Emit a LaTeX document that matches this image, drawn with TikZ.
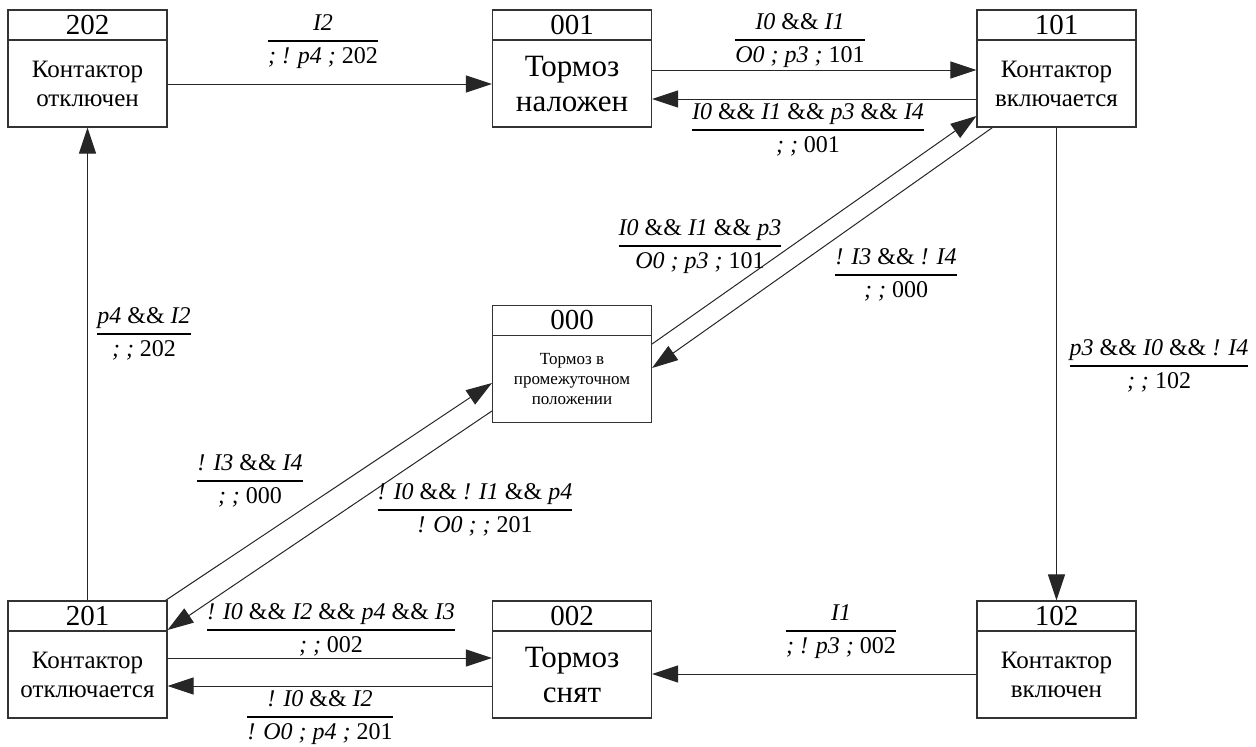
\documentclass[tikz,border=0pt]{standalone}
\usepackage{fontspec}
\setmainfont{Liberation Serif}
\usetikzlibrary{arrows.meta,calc}
\newcommand{\trlab}[3]{\begin{tabular}{@{}c@{}}\itshape #1\\\hline\textit{#2}#3\end{tabular}}
\newcommand{\AND}{\textup{\&\&}}
\newcommand{\hdrfont}{\fontsize{29}{32}\selectfont}
\newcommand{\bodyfont}{\fontsize{25}{29}\selectfont}
\newcommand{\bigbodyfont}{\fontsize{31}{35}\selectfont}
\newcommand{\smallbodyfont}{\fontsize{17}{20}\selectfont}
\newcommand{\labfont}{\fontsize{24}{27}\selectfont}
\newcommand{\statebox}[6]{%
  \node[stbox] (#1) at (#2,#3) {};
  \draw[boxline] ([yshift=-30.5pt]#1.north west) -- ([yshift=-30.5pt]#1.north east);
  \node[hdr] (#1n) at ([yshift=-15.5pt]#1.north) {#4};
  \node[body,font=#5] (#1t) at ([yshift=-15pt]#1.center) {#6};
}
\begin{document}
\begin{tikzpicture}[x=1pt,y=-1pt,
  stbox/.style={draw=black!80,line width=1.1pt,minimum width=159pt,minimum height=117pt,inner sep=0pt},
  boxline/.style={draw=black!80,line width=1.1pt},
  hdr/.style={inner sep=0pt,font=\hdrfont},
  body/.style={inner sep=0pt,align=center},
  conn/.style={draw=black!85,line width=1pt,-{Triangle[length=26pt,width=17pt]}},
  lab/.style={inner sep=0pt,font=\labfont}]
\useasboundingbox (0,0) rectangle (1256,747);
\arrayrulewidth=2pt
\renewcommand{\arraystretch}{1.15}
% states
\statebox{s202}{87.5}{68.5}{202}{\bodyfont}{Контактор\\отключен}
\statebox{s001}{572}{68.5}{001}{\bigbodyfont}{Тормоз\\наложен}
\statebox{s101}{1056.5}{68.5}{101}{\bodyfont}{Контактор\\включается}
\statebox{s000}{572}{364}{000}{\smallbodyfont}{Тормоз в\\промежуточном\\положении}
\statebox{s201}{87.5}{659.5}{201}{\bodyfont}{Контактор\\отключается}
\statebox{s002}{572}{659.5}{002}{\bigbodyfont}{Тормоз\\снят}
\statebox{s102}{1056.5}{659.5}{102}{\bodyfont}{Контактор\\включен}
% connectors
\draw[conn] ([yshift=-15.5pt]s202.east) -- ([yshift=-15.5pt]s001.west);
\draw[conn] ([yshift=-1.5pt]s001.east) -- ([yshift=-1.5pt]s101.west);
\draw[conn] ([yshift=-30.5pt]s101.west) -- ([yshift=-30.5pt]s001.east);
\draw[conn] ([yshift=20pt]s000.east) -- ([yshift=-47.5pt]s101.west);
\draw[conn] ([xshift=16pt]s101.south west) -- ([yshift=-4pt]s000.east);
\draw[conn] (s101.south) -- (s102.north);
\draw[conn] ([yshift=-14.5pt]s102.west) -- ([yshift=-14.5pt]s002.east);
\draw[conn] ([yshift=1.5pt]s201.east) -- ([yshift=1.5pt]s002.west);
\draw[conn] ([yshift=-26.5pt]s002.west) -- ([yshift=-26.5pt]s201.east);
\draw[conn] (s201.north) -- (s202.south);
\draw[conn] ([xshift=-2pt]s201.north east) -- ([yshift=-19pt]s000.west);
\draw[conn] ([yshift=-47pt]s000.west) -- ([yshift=29.5pt]s201.east);
% labels
\node[lab] (l1) at (323,41) {\trlab{I2}{; ! p4 ; }{202}};
\node[lab] (l2) at (800,40) {\trlab{I0 \AND{} I1}{O0 ; p3 ; }{101}};
\node[lab] (l3) at (808,130) {\trlab{I0 \AND{} I1 \AND{} p3 \AND{} I4}{; ; }{001}};
\node[lab] (l4) at (700,246) {\trlab{I0 \AND{} I1 \AND{} p3}{O0 ; p3 ; }{101}};
\node[lab] (l5) at (896,275) {\trlab{! I3 \AND{} ! I4}{; ; }{000}};
\node[lab] (l6) at (1159,366) {\trlab{p3 \AND{} I0 \AND{} ! I4}{; ; }{102}};
\node[lab] (l7) at (841,631) {\trlab{I1}{; ! p3 ; }{002}};
\node[lab] (l8) at (331,630) {\trlab{! I0 \AND{} I2 \AND{} p4 \AND{} I3}{; ; }{002}};
\node[lab] (l9) at (320,717) {\trlab{! I0 \AND{} I2}{! O0 ; p4 ; }{201}};
\node[lab] (l10) at (144,334) {\trlab{p4 \AND{} I2}{; ; }{202}};
\node[lab] (l11) at (250,481) {\trlab{! I3 \AND{} I4}{; ; }{000}};
\node[lab] (l12) at (475,510) {\trlab{! I0 \AND{} ! I1 \AND{} p4}{! O0 ; ; }{201}};
\end{tikzpicture}
\end{document}
